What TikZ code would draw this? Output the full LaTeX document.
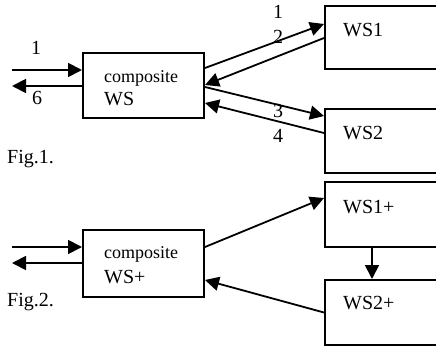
\documentclass[tikz,border=0pt]{standalone}
\usepackage{fontspec}
\setmainfont{Liberation Serif}
\usetikzlibrary{arrows.meta}
\tikzset{
  box/.style={draw, line width=2pt, rectangle, inner sep=0pt},
  conn/.style={line width=1.8pt, -{Triangle[length=14pt,width=14pt]}},
  txt/.style={anchor=base west, inner sep=0pt, font=\fontsize{20}{24}\selectfont},
  small/.style={anchor=base west, inner sep=0pt, font=\fontsize{18}{21}\selectfont}
}
\begin{document}
\begin{tikzpicture}[x=1pt,y=-1pt]
\useasboundingbox (0,0) rectangle (436,348);
\clip (0,0) rectangle (436,348);
% ---------- Fig.1 ----------
\node[box, minimum width=121pt, minimum height=65pt] (cws) at (143.5,85.5) {};
\node[box, anchor=west, minimum width=131pt, minimum height=63pt] (ws1) at (324,37.5) {};
\node[box, anchor=west, minimum width=131pt, minimum height=64pt] (ws2) at (324,141) {};
\node[small] (tcomp1) at (104,82) {composite};
\node[txt] (tws) at (104,105) {WS};
\node[txt] (tws1) at (343,36) {WS1};
\node[txt] (tws2) at (343,139) {WS2};
\node[txt] (fig1) at (7,163) {Fig.1.};
\coordinate (in1) at (12,70);
\coordinate (out1) at (12,86);
\draw[conn] (in1) -- ([yshift=15.5pt]cws.west);
\draw[conn] ([yshift=-0.5pt]cws.west) -- (out1);
\draw[conn] ([yshift=17.5pt]cws.east) -- ([yshift=13.5pt]ws1.west);
\draw[conn] ([yshift=-0.5pt]ws1.west) -- ([yshift=0.5pt]cws.east);
\draw[conn] ([yshift=-1.5pt]cws.east) -- ([yshift=25pt]ws2.west);
\draw[conn] ([yshift=8pt]ws2.west) -- ([yshift=-17.5pt]cws.east);
\node[txt] (l1a) at (31,54) {1};
\node[txt] (l6) at (32,104) {6};
\node[txt] (l1) at (273,18) {1};
\node[txt] (l2) at (273,43) {2};
\node[txt] (l3) at (273,117) {3};
\node[txt] (l4) at (273,142) {4};
% ---------- Fig.2 ----------
\node[box, minimum width=121pt, minimum height=67pt] (cws2) at (143.5,263.5) {};
\node[box, anchor=west, minimum width=131pt, minimum height=65pt] (ws1p) at (324,214.5) {};
\node[box, anchor=west, minimum width=131pt, minimum height=65pt] (ws2p) at (324,312.5) {};
\node[small] (tcomp2) at (104,258) {composite};
\node[txt] (twsp) at (104,283) {WS+};
\node[txt] (tws1p) at (343,213) {WS1+};
\node[txt] (tws2p) at (343,309) {WS2+};
\node[txt] (fig2) at (7,306) {Fig.2.};
\coordinate (in2) at (12,247);
\coordinate (out2) at (12,263);
\draw[conn] (in2) -- ([yshift=16.5pt]cws2.west);
\draw[conn] ([yshift=0.5pt]cws2.west) -- (out2);
\draw[conn] ([yshift=16.5pt]cws2.east) -- ([yshift=16.5pt]ws1p.west);
\draw[conn] (ws2p.west) -- ([yshift=-16.5pt]cws2.east);
\draw[conn] ([xshift=48pt]ws1p.south west) -- ([xshift=48pt]ws2p.north west);
\end{tikzpicture}
\end{document}
